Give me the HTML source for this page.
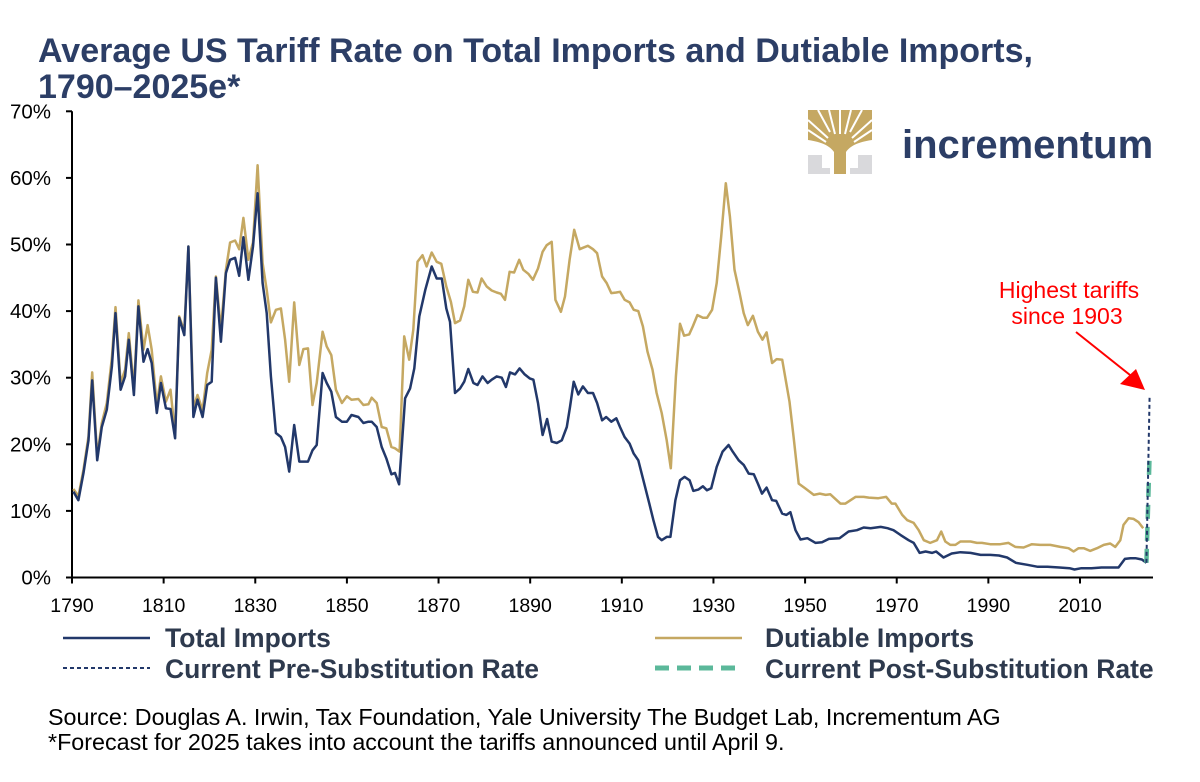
<!DOCTYPE html>
<html><head><meta charset="utf-8"><style>
html,body{margin:0;padding:0;background:#fff;}
body{width:1200px;height:777px;overflow:hidden;position:relative;font-family:"Liberation Sans",Arial,sans-serif;}
</style></head><body>
<svg id="chart" width="1200" height="777" viewBox="0 0 1200 777" xmlns="http://www.w3.org/2000/svg" font-family="Liberation Sans, Arial, sans-serif">
<text x="38" y="62" font-size="34" font-weight="bold" fill="#2c3e66">Average US Tariff Rate on Total Imports and Dutiable Imports,</text>
<text x="38" y="98" font-size="34" font-weight="bold" fill="#2c3e66">1790–2025e*</text>
<g>
 <rect x="808" y="155" width="14" height="19" fill="#d9d9dc"/>
 <rect x="808" y="168" width="22" height="6" fill="#d9d9dc"/>
 <rect x="858" y="155" width="14" height="19" fill="#d9d9dc"/>
 <rect x="850" y="168" width="22" height="6" fill="#d9d9dc"/>
 <path d="M808 110 H872 V140 C858 142 850 146 846 152 V174 H834 V152 C830 146 822 142 808 140 Z" fill="#c5a862"/>
 <path d="M818 110 L830 132 M829 110 L835 134 M840 110 L840 134 M851 110 L845 134 M862 110 L850 132 M808 120 L828 138 M872 120 L852 138 M808 130 L826 142 M872 130 L854 142" stroke="#fff" stroke-width="2" fill="none"/>
 <text x="902" y="158" font-size="40" font-weight="bold" fill="#2c3e66">incrementum</text>
</g>
<g id="axes"></g>
<g id="series"></g>
<g>
 <text x="1069" y="298" font-size="23" fill="#ff0000" text-anchor="middle">Highest tariffs</text>
 <text x="1067" y="324" font-size="23" fill="#ff0000" text-anchor="middle">since 1903</text>
 <line x1="1076" y1="332" x2="1130" y2="375" stroke="#ff0000" stroke-width="2"/>
 <polygon points="1145,390 1120,384 1136,369" fill="#ff0000"/>
</g>
<g>
 <g>
  <line x1="63" y1="638" x2="150" y2="638" stroke="#22386a" stroke-width="2.5"/>
  <text x="165" y="647" font-size="26.5" font-weight="bold" fill="#2e3a4e">Total Imports</text>
 </g>
 <g>
  <line x1="655" y1="638" x2="742" y2="638" stroke="#c5a862" stroke-width="2.5"/>
  <text x="765" y="647" font-size="26.5" font-weight="bold" fill="#2e3a4e">Dutiable Imports</text>
 </g>
 <g>
  <line x1="63" y1="668" x2="150" y2="668" stroke="#22386a" stroke-width="2" stroke-dasharray="4,3"/>
  <text x="165" y="678" font-size="26.5" font-weight="bold" fill="#2e3a4e">Current Pre-Substitution Rate</text>
 </g>
 <g>
  <line x1="655" y1="668" x2="742" y2="668" stroke="#5bb89a" stroke-width="5" stroke-dasharray="14,8"/>
  <text x="765" y="678" font-size="26.5" font-weight="bold" fill="#2e3a4e">Current Post-Substitution Rate</text>
 </g>
</g>
<text x="48" y="725" font-size="23.3" fill="#000">Source: Douglas A. Irwin, Tax Foundation, Yale University The Budget Lab, Incrementum AG</text>
<text x="48" y="750" font-size="23.3" fill="#000">*Forecast for 2025 takes into account the tariffs announced until April 9.</text>
</svg>
<script>
const xTicks = [1790,1810,1830,1850,1870,1890,1910,1930,1950,1970,1990,2010];
const yTicks = [0,10,20,30,40,50,60,70];
const totalYears = [1790.3,1791.4,1792.5,1793.6,1794.4,1795.5,1796.5,1797.6,1798.7,1799.5,1800.6,1801.6,1802.4,1803.5,1804.5,1805.6,1806.5,1807.4,1808.5,1809.4,1810.5,1811.5,1812.5,1813.4,1814.5,1815.4,1816.5,1817.4,1818.5,1819.5,1820.5,1821.4,1822.5,1823.6,1824.5,1825.6,1826.5,1827.4,1828.5,1829.5,1830.5,1831.6,1832.5,1833.4,1834.5,1835.6,1836.5,1837.4,1838.5,1839.6,1840.5,1841.5,1842.5,1843.4,1844.7,1845.6,1846.6,1847.6,1848.9,1850,1851,1852.5,1853.6,1854.7,1855.4,1856.5,1857.6,1858.6,1859.7,1860.5,1861.4,1862.7,1863.8,1864.7,1865.8,1867.1,1868.5,1869.6,1870.7,1871.7,1872.5,1873.6,1874.7,1875.6,1876.5,1877.6,1878.5,1879.6,1880.7,1881.6,1882.7,1883.8,1884.7,1885.6,1886.7,1887.7,1888.8,1889.9,1890.7,1891.7,1892.7,1893.7,1894.7,1895.8,1896.9,1898,1898.7,1899.5,1900.5,1901.5,1902.6,1903.7,1904.6,1905.7,1906.6,1907.7,1908.8,1909.6,1910.6,1911.7,1912.6,1913.6,1914.7,1916,1916.9,1917.9,1918.7,1919.8,1920.6,1921.7,1922.7,1923.7,1924.8,1925.6,1926.7,1927.7,1928.6,1929.5,1930.7,1932,1933.3,1934.2,1935.5,1936.6,1937.7,1938.8,1939.7,1940.6,1941.6,1942.8,1943.7,1945,1945.9,1946.8,1947.9,1949,1950.5,1952.3,1953.7,1955.2,1957.5,1959.5,1961.3,1962.8,1964.3,1966.5,1968,1969.3,1970.8,1972.6,1973.7,1975,1976.3,1977.7,1978.6,1980.2,1982,1983.9,1986.1,1988.3,1990.4,1992.3,1994.1,1996,1998.5,2000.8,2002.9,2005.5,2007.7,2008.8,2010.3,2012.5,2014.7,2017.3,2018.4,2019.8,2021,2022.1,2023.5,2024.5];
const totalValues = [12.9,11.6,15.7,20.6,29.6,17.6,22.6,25.2,31.7,39.7,28.2,30.2,35.7,27.4,40.7,32.4,34.3,32.2,24.7,29.2,25.4,25.3,20.9,39,36.4,49.7,24.1,26.7,24.1,28.9,29.4,45,35.4,45.7,47.7,48,45.3,51.1,44.7,49.7,57.7,44.2,39.7,30.2,21.7,21.1,19.6,15.9,22.9,17.4,17.4,17.4,19.1,19.9,30.7,29.2,27.9,24.1,23.4,23.4,24.4,24.1,23.2,23.4,23.4,22.6,19.6,17.9,15.5,15.7,14,26.9,28.4,31.4,39.2,43.2,46.7,44.9,44.9,40.4,38.4,27.7,28.4,29.4,31.3,29.2,28.9,30.2,29.2,29.7,30.2,30,28.6,30.8,30.5,31.4,30.5,29.9,29.7,26.2,21.4,23.8,20.4,20.2,20.6,22.6,25.6,29.4,27.5,28.7,27.7,27.7,26.2,23.6,24.1,23.4,23.9,22.6,21.1,20.1,18.6,17.6,14.6,11.1,8.6,6.1,5.6,6.1,6.1,11.6,14.6,15.1,14.6,13,13.2,13.7,13.1,13.4,16.6,18.9,19.9,18.9,17.6,16.9,15.6,15.5,14.1,12.6,13.5,11.6,11.5,9.6,9.4,9.8,7.1,5.7,5.9,5.2,5.3,5.8,5.9,6.9,7.1,7.5,7.4,7.6,7.4,7.1,6.4,5.6,5.2,3.7,3.9,3.7,3.9,3.0,3.6,3.8,3.7,3.4,3.4,3.3,3.0,2.2,1.9,1.6,1.6,1.5,1.4,1.2,1.4,1.4,1.5,1.5,1.5,2.8,2.9,2.9,2.7,2.2];
const dutYears = [1790.3,1791.4,1792.5,1793.6,1794.4,1795.5,1796.5,1797.6,1798.7,1799.5,1800.6,1801.6,1802.4,1803.5,1804.5,1805.6,1806.5,1807.4,1808.5,1809.4,1810.5,1811.5,1812.5,1813.4,1814.5,1815.4,1816.5,1817.4,1818.5,1819.5,1820.5,1821.4,1822.5,1823.6,1824.5,1825.6,1826.5,1827.4,1828.5,1829.5,1830.5,1831.6,1832.5,1833.4,1834.5,1835.6,1836.5,1837.4,1838.5,1839.6,1840.5,1841.5,1842.5,1843.4,1844.7,1845.6,1846.6,1847.6,1848.9,1850,1851,1852.5,1853.6,1854.7,1855.4,1856.5,1857.6,1858.6,1859.7,1860.5,1861.5,1862.5,1863.6,1864.5,1865.4,1866.5,1867.4,1868.5,1869.6,1870.6,1871.7,1872.7,1873.6,1874.7,1875.6,1876.5,1877.5,1878.5,1879.4,1880.5,1881.6,1882.7,1883.6,1884.5,1885.5,1886.5,1887.6,1888.5,1889.6,1890.6,1891.7,1892.7,1893.6,1894.7,1895.5,1896.7,1897.6,1898.6,1899.6,1900.8,1901.5,1902.6,1903.7,1904.6,1905.7,1906.7,1907.7,1908.8,1909.6,1910.6,1911.7,1912.6,1913.6,1914.6,1915.6,1916.7,1917.6,1918.7,1919.8,1920.7,1921.8,1922.7,1923.6,1924.7,1925.5,1926.5,1927.7,1928.6,1929.7,1930.7,1931.7,1932.7,1933.6,1934.6,1935.7,1936.6,1937.5,1938.6,1939.7,1940.7,1941.6,1942.8,1943.8,1945,1946.6,1947.5,1948.6,1950,1951.9,1953.2,1954.5,1955.5,1957.7,1958.8,1961,1962.8,1963.9,1966,1967.7,1968.9,1969.7,1971.2,1972.3,1973.7,1974.8,1975.9,1977.3,1978.8,1979.7,1980.6,1981.7,1982.8,1983.9,1986.1,1987.5,1988.6,1990.4,1992.6,1994.4,1995.9,1997.7,1999.5,2001.3,2003.5,2005.7,2007.5,2008.6,2009.7,2010.8,2012.2,2013.7,2015.2,2016.6,2017.7,2018.8,2019.5,2020.6,2021.7,2022.8,2023.8];
const dutValues = [13.3,12.2,16.2,21.2,30.8,18.2,23.2,26.2,33,40.6,29.2,31.2,36.7,28.4,41.6,34.2,37.9,34.2,25.9,30.2,26.4,28.2,21.4,39.2,37,49.7,25.4,27.4,25.1,30.7,34.2,45.2,37.2,46.2,50.3,50.6,49.3,54,47.7,50.3,61.9,47.2,43.2,38.3,40.2,40.4,35.7,29.4,41.3,31.9,34.3,34.4,25.9,29.2,36.9,34.7,33.4,28.2,26.2,27.2,26.7,26.8,25.9,26,27,26.2,22.6,22.4,19.6,19.4,18.9,36.2,32.7,37.2,47.4,48.4,46.7,48.8,47.4,47.1,43.7,41.4,38.2,38.6,40.7,44.7,42.9,42.8,44.9,43.7,43.1,42.8,42.6,41.7,45.9,45.8,47.7,46.2,45.6,44.7,46.4,48.9,49.9,50.4,41.7,39.9,42.2,47.7,52.2,49.3,49.5,49.8,49.3,48.7,45.2,44.2,42.7,42.8,42.9,41.7,41.3,40.2,40,37.7,33.9,31.2,27.7,24.7,20.6,16.4,30.2,38.1,36.3,36.5,37.7,39.4,39,39,40.2,44.2,51.2,59.2,54.2,46.2,42.7,39.7,37.9,39.3,36.9,35.7,36.8,32.2,32.8,32.7,26.4,21.1,14.1,13.4,12.4,12.6,12.4,12.5,11.1,11.1,12.1,12.1,12.0,11.9,12.1,11.1,11.1,9.4,8.6,8.2,7.1,5.6,5.2,5.6,6.9,5.4,4.9,4.9,5.4,5.4,5.2,5.2,5.0,5.0,5.2,4.6,4.5,5.0,4.9,4.9,4.6,4.4,3.9,4.4,4.4,4.0,4.4,4.9,5.1,4.6,5.6,7.9,8.9,8.8,8.3,7.4];
const preSubYears = [2024.5,2025.2];
const preSubValues = [2.2,27.2];
const postSubYears = [2024.5,2025.2];
const postSubValues = [2.2,18.4];

const NS = 'http://www.w3.org/2000/svg';
const X0 = 72, PXY = (1080 - 72) / 220, Y0 = 577.5, PXV = 6.66;
function xScale(yr){ return X0 + (yr - 1790) * PXY; }
function yScale(v){ return Y0 - v * PXV; }
function mk(tag, attrs, parent){ const e = document.createElementNS(NS, tag); for (const k in attrs) e.setAttribute(k, attrs[k]); parent.appendChild(e); return e; }

const axes = document.getElementById('axes');
const yAxis = mk('line', {x1:X0, y1:yScale(70), x2:X0, y2:Y0, stroke:'#000', 'stroke-width':2}, axes);


const xAxis = mk('line', {x1:X0, y1:Y0, x2:1153, y2:Y0, stroke:'#000', 'stroke-width':2}, axes);


yTicks.forEach(v => {
  const y = yScale(v);
  const t = mk('line', {x1:X0-6, y1:y, x2:X0, y2:y, stroke:'#000', 'stroke-width':2}, axes);
  
  
  const l = mk('text', {x:51, y:y+7, 'font-size':20.5, 'text-anchor':'end', fill:'#000'}, axes);
  l.textContent = v + '%';
  
  
});
xTicks.forEach(yr => {
  const x = xScale(yr);
  const t = mk('line', {x1:x, y1:Y0, x2:x, y2:Y0+6, stroke:'#000', 'stroke-width':2}, axes);
  
  
  const l = mk('text', {x:x, y:612, 'font-size':19.5, 'text-anchor':'middle', fill:'#000'}, axes);
  l.textContent = yr;
  
  
});

const series = document.getElementById('series');
function pathOf(xs, vs){ return xs.map((yr,i) => (i ? 'L' : 'M') + xScale(yr).toFixed(1) + ' ' + yScale(vs[i]).toFixed(1)).join(' '); }
const dut = mk('path', {d:pathOf(dutYears, dutValues), fill:'none', stroke:'#c5a862', 'stroke-width':2.5, 'stroke-linejoin':'round'}, series);


const tot = mk('path', {d:pathOf(totalYears, totalValues), fill:'none', stroke:'#22386a', 'stroke-width':2.5, 'stroke-linejoin':'round'}, series);


const post = mk('path', {d:pathOf(postSubYears, postSubValues), fill:'none', stroke:'#5bb89a', 'stroke-width':4.5, 'stroke-dasharray':'14,8'}, series);


const pre = mk('path', {d:pathOf(preSubYears, preSubValues), fill:'none', stroke:'#22386a', 'stroke-width':2, 'stroke-dasharray':'4,3'}, series);


</script>
</body></html>
